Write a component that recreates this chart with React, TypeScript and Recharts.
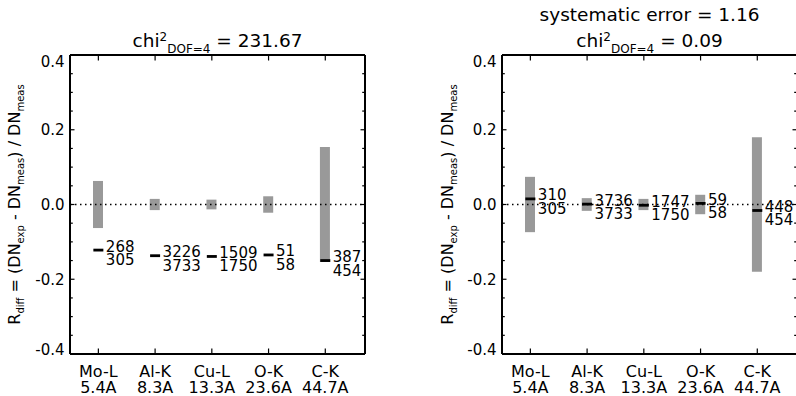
import React from 'react';
import { ComposedChart, Bar, Scatter, XAxis, YAxis, ReferenceLine } from 'recharts';

// ---- data ----
const categories = ['Mo-L', 'Al-K', 'Cu-L', 'O-K', 'C-K'];
const wavelengths = ['5.4A', '8.3A', '13.3A', '23.6A', '44.7A'];
const measDN = [305, 3733, 1750, 58, 454];
const expDNLeft = [268, 3226, 1509, 51, 387];
const expDNRight = [310, 3736, 1747, 59, 448];
const rdiffLeft = [-0.122, -0.137, -0.139, -0.135, -0.15];
const rdiffRight = [0.015, 0.001, -0.002, 0.003, -0.016];
const errLeft = [0.063, 0.015, 0.013, 0.022, 0.154];
const errRight = [0.074, 0.017, 0.015, 0.026, 0.18];
const xPositions = [0, 1, 2, 3, 4];
const yMajorTicks = [-0.4, -0.2, 0, 0.2, 0.4];
const yMajorLabels = ['-0.4', '-0.2', '0.0', '0.2', '0.4'];
const yAllTicks = [-0.4, -0.35, -0.3, -0.25, -0.2, -0.15, -0.1, -0.05, 0, 0.05, 0.1, 0.15, 0.2, 0.25, 0.3, 0.35, 0.4];
const titleLeftValue = '231.67';
const titleRightValue = '0.09';
const systematicError = '1.16';

const FONT = "'DejaVu Sans', sans-serif";

const buildData = (err: number[], rdiff: number[], exp: number[]) =>
  categories.map((c, i) => ({
    x: xPositions[i],
    range: [-err[i], err[i]],
    r: rdiff[i],
    exp: exp[i],
    meas: measDN[i],
  }));

const dataLeft = buildData(errLeft, rdiffLeft, expDNLeft);
const dataRight = buildData(errRight, rdiffRight, expDNRight);

const majorIndex = (v: number) => yMajorTicks.findIndex((m) => Math.abs(m - v) < 1e-6);

const LeftYTick = (props: any) => {
  const { x, y, payload } = props;
  const idx = majorIndex(payload.value);
  const major = idx >= 0;
  let dy = 5.5;
  if (idx === 4) dy = 11.5;
  if (idx === 0) dy = 1;
  return (
    <g>
      <line x1={x} x2={x + (major ? 4.5 : 2.8)} y1={y} y2={y} stroke="#000" strokeWidth={1.2} />
      {major && (
        <text x={x - 5.5} y={y + dy} textAnchor="end" fontSize={15} fontFamily={FONT} fill="#000">
          {yMajorLabels[idx]}
        </text>
      )}
    </g>
  );
};

const RightYTick = (props: any) => {
  const { x, y, payload } = props;
  const major = majorIndex(payload.value) >= 0;
  return <line x1={x} x2={x - (major ? 4.5 : 2.8)} y1={y} y2={y} stroke="#000" strokeWidth={1.2} />;
};

const BottomXTick = (props: any) => {
  const { x, y, payload } = props;
  const i = xPositions.indexOf(payload.value);
  return (
    <g>
      <line x1={x} x2={x} y1={y} y2={y - 5.5} stroke="#000" strokeWidth={1.2} />
      <text x={x} y={y + 23} textAnchor="middle" fontSize={16} fontFamily={FONT} fill="#000">
        {categories[i]}
      </text>
      <text x={x} y={y + 38.5} textAnchor="middle" fontSize={16} fontFamily={FONT} fill="#000">
        {wavelengths[i]}
      </text>
    </g>
  );
};

const TopXTick = (props: any) => {
  const { x, y } = props;
  return <line x1={x} x2={x} y1={y} y2={y + 5.5} stroke="#000" strokeWidth={1.2} />;
};

const Marker = (props: any) => {
  const { cx, cy, payload } = props;
  if (cx == null || cy == null) return null;
  return (
    <g>
      <line x1={cx - 5} x2={cx + 5} y1={cy} y2={cy} stroke="#000" strokeWidth={2.8} />
      <text x={cx + 7.5} y={cy + 1.5} fontSize={15} fontFamily={FONT} fill="#000">
        {payload.exp}
      </text>
      <text x={cx + 7.5} y={cy + 15} fontSize={15} fontFamily={FONT} fill="#000">
        {payload.meas}
      </text>
    </g>
  );
};

const Panel = ({ data, leftWidth, rightMargin }: { data: any[]; leftWidth: number; rightMargin: number }) => (
  <ComposedChart
    width={400}
    height={396}
    data={data}
    margin={{ top: 54, right: rightMargin, bottom: 41, left: 0 }}
  >
    <XAxis
      dataKey="x"
      type="number"
      domain={[-0.5, 4.7]}
      ticks={xPositions}
      interval={0}
      height={1}
      tickSize={0}
      tickMargin={0}
      tickLine={false}
      axisLine={{ stroke: '#000', strokeWidth: 2 }}
      tick={<BottomXTick />}
      allowDataOverflow
    />
    <XAxis
      xAxisId="top"
      orientation="top"
      dataKey="x"
      type="number"
      domain={[-0.5, 4.7]}
      ticks={xPositions}
      interval={0}
      height={1}
      tickSize={0}
      tickMargin={0}
      tickLine={false}
      axisLine={{ stroke: '#000', strokeWidth: 2 }}
      tick={<TopXTick />}
      allowDataOverflow
    />
    <YAxis
      type="number"
      domain={[-0.4, 0.4]}
      ticks={yAllTicks}
      interval={0}
      width={leftWidth}
      tickSize={0}
      tickMargin={0}
      tickLine={false}
      axisLine={{ stroke: '#000', strokeWidth: 2 }}
      tick={<LeftYTick />}
      allowDataOverflow
    />
    <YAxis
      yAxisId="right"
      orientation="right"
      type="number"
      domain={[-0.4, 0.4]}
      ticks={yAllTicks}
      interval={0}
      width={1}
      tickSize={0}
      tickMargin={0}
      tickLine={false}
      axisLine={{ stroke: '#000', strokeWidth: 2 }}
      tick={<RightYTick />}
      allowDataOverflow
    />
    <Bar dataKey="range" fill="#999999" barSize={10} isAnimationActive={false} />
    <ReferenceLine y={0} stroke="#000" strokeWidth={1.5} strokeDasharray="1.5 3.5" />
    <Scatter dataKey="r" shape={<Marker />} isAnimationActive={false} />
  </ComposedChart>
);

const YTitle = ({ x }: { x: number }) => (
  <text
    transform={`translate(${x},204.5) rotate(-90)`}
    textAnchor="middle"
    fontSize={16}
    fontFamily={FONT}
    fill="#000"
  >
    R
    <tspan dy={4} fontSize={10}>diff</tspan>
    <tspan dy={-4}>{' = (DN'}</tspan>
    <tspan dy={4} fontSize={10}>exp</tspan>
    <tspan dy={-4}>{' - DN'}</tspan>
    <tspan dy={4} fontSize={10}>meas</tspan>
    <tspan dy={-4}>{') / DN'}</tspan>
    <tspan dy={4} fontSize={10}>meas</tspan>
  </text>
);

const ChiTitle = ({ x, y, value }: { x: number; y: number; value: string }) => (
  <text x={x} y={y} textAnchor="middle" fontSize={18.5} fontFamily={FONT} fill="#000">
    chi
    <tspan dy={-6} fontSize={12}>2</tspan>
    <tspan dy={12} fontSize={12}>DOF=4</tspan>
    <tspan dy={-6}>{' = ' + value}</tspan>
  </text>
);

export default function App() {
  return (
    <div
      style={{
        position: 'absolute',
        left: 0,
        top: 0,
        width: 796,
        height: 396,
        overflow: 'hidden',
        background: '#fff',
      }}
    >
      <div style={{ position: 'absolute', left: 0, top: 0, width: 400, height: 396 }}>
        <Panel data={dataLeft} leftWidth={70} rightMargin={34} />
      </div>
      <div style={{ position: 'absolute', left: 400, top: 0, width: 400, height: 396 }}>
        <Panel data={dataRight} leftWidth={102} rightMargin={2} />
      </div>
      <svg
        width={796}
        height={396}
        style={{ position: 'absolute', left: 0, top: 0, pointerEvents: 'none' }}
      >
        <ChiTitle x={217.5} y={46.5} value={titleLeftValue} />
        <text x={649.5} y={20.5} textAnchor="middle" fontSize={18.5} fontFamily={FONT} fill="#000">
          {'systematic error = ' + systematicError}
        </text>
        <ChiTitle x={649.5} y={46.5} value={titleRightValue} />
        <YTitle x={20} />
        <YTitle x={453} />
      </svg>
    </div>
  );
}
